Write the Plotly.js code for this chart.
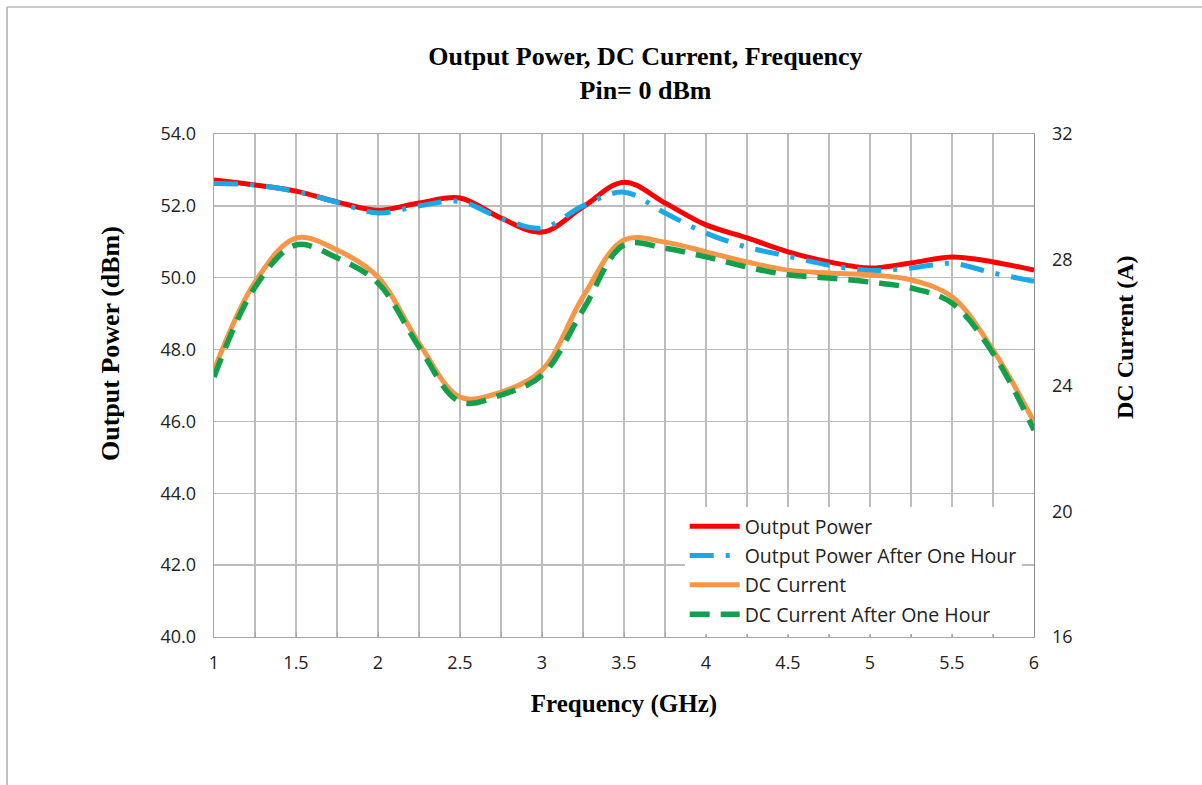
<!DOCTYPE html>
<html>
<head>
<meta charset="utf-8">
<script src="https://cdn.plot.ly/plotly-3.0.1.min.js"></script>
<style>html,body{margin:0;padding:0;background:#fff;}#chart{width:1202px;height:785px;}</style>
</head>
<body>
<div id="chart"></div>
<script>
// Frequency (GHz)
const freq = [1, 1.25, 1.5, 1.75, 2, 2.25, 2.5, 2.75, 3, 3.25, 3.5, 3.75, 4, 4.25, 4.5, 4.75, 5, 5.25, 5.5, 5.75, 6];
// Output power (dBm)
const outputPower = [52.72, 52.58, 52.41, 52.11, 51.88, 52.08, 52.22, 51.66, 51.27, 51.97, 52.66, 52.08, 51.47, 51.11, 50.72, 50.44, 50.27, 50.41, 50.58, 50.44, 50.21];
const outputPowerHour = [52.62, 52.58, 52.40, 52.10, 51.80, 52.00, 52.12, 51.66, 51.38, 52.00, 52.38, 51.80, 51.24, 50.85, 50.60, 50.35, 50.20, 50.27, 50.40, 50.13, 49.90];
// DC current (A)
const dcCurrent = [24.49, 27.29, 28.69, 28.31, 27.45, 25.35, 23.63, 23.79, 24.49, 26.82, 28.63, 28.56, 28.25, 27.93, 27.67, 27.58, 27.52, 27.36, 26.82, 25.13, 22.84];
const dcCurrentHour = [24.27, 27.13, 28.47, 28.06, 27.26, 25.23, 23.48, 23.70, 24.33, 26.40, 28.47, 28.37, 28.09, 27.77, 27.52, 27.42, 27.29, 27.10, 26.62, 25.03, 22.58];
const seriesNames = ["Output Power", "Output Power After One Hour", "DC Current", "DC Current After One Hour"];
const leftTicks = [40, 42, 44, 46, 48, 50, 52, 54];
const rightTicks = [16, 20, 24, 28, 32];

const serif = "Liberation Serif, Times New Roman, serif";
const sans = "Open Sans, Liberation Sans, sans-serif";

const traces = [
  {x: freq, y: outputPower, name: seriesNames[0], mode: "lines", yaxis: "y",
   line: {color: "#ff0000", width: 5, shape: "spline", smoothing: 1}, legendgroup: "a"},
  {x: freq, y: outputPowerHour, name: seriesNames[1], mode: "lines", yaxis: "y",
   line: {color: "#1aa9e6", width: 5, shape: "spline", smoothing: 1, dash: "24px,12px,4px,12px"}, legendgroup: "b"},
  {x: freq, y: dcCurrent, name: seriesNames[2], mode: "lines", yaxis: "y2",
   line: {color: "#f79646", width: 5, shape: "spline", smoothing: 1}, legendgroup: "c"},
  {x: freq, y: dcCurrentHour, name: seriesNames[3], mode: "lines", yaxis: "y2",
   line: {color: "#13a04c", width: 5.5, shape: "spline", smoothing: 1, dash: "20px,11px"}, legendgroup: "d"}
];

const layout = {
  width: 1202, height: 785,
  margin: {l: 214, r: 168, t: 134, b: 148},
  paper_bgcolor: "#ffffff", plot_bgcolor: "#ffffff",
  showlegend: true,
  title: {
    text: "<b>Output Power, DC Current, Frequency</b><br><b>Pin= 0 dBm</b>",
    font: {family: serif, size: 26, color: "#000"},
    x: 0.537, xref: "container", xanchor: "center",
    y: 0.917, yref: "container", yanchor: "middle"
  },
  xaxis: {
    range: [1, 6], dtick: 0.5, tick0: 1,
    showgrid: true, gridcolor: "#bcbcbc", gridwidth: 1.4,
    minor: {dtick: 0.25, showgrid: true, gridcolor: "#bcbcbc", gridwidth: 1.4, ticks: "inside", ticklen: 5, tickcolor: "#a6a6a6"},
    ticks: "inside", ticklen: 5, tickcolor: "#a6a6a6",
    showline: true, linecolor: "#a6a6a6", linewidth: 1.4, mirror: true,
    zeroline: false, ticklabelstandoff: 9,
    tickfont: {family: sans, size: 18, color: "#222"},
    title: {text: "<b>Frequency (GHz)</b>", font: {family: serif, size: 25, color: "#000"}, standoff: 21}
  },
  yaxis: {
    range: [40, 54], tickvals: leftTicks, tickformat: ".1f",
    showgrid: true, gridcolor: "#bcbcbc", gridwidth: 1.4,
    showline: true, linecolor: "#a6a6a6", linewidth: 1.4,
    zeroline: false, ticks: "", ticklabelstandoff: 13,
    tickfont: {family: sans, size: 18, color: "#222"}
  },
  yaxis2: {
    range: [16, 32], tickvals: rightTicks,
    overlaying: "y", side: "right",
    showgrid: false, zeroline: false, ticks: "", ticklabelstandoff: 13,
    showline: true, linecolor: "#8c8c8c", linewidth: 1.4,
    tickfont: {family: sans, size: 18, color: "#222"}
  },
  annotations: [
    {text: "<b>Output Power (dBm)</b>", textangle: -90, xref: "paper", yref: "paper",
     x: -0.1268, y: 0.5825, xanchor: "center", yanchor: "middle", showarrow: false,
     font: {family: serif, size: 26, color: "#000"}},
    {text: "<b>DC Current (A)</b>", textangle: -90, xref: "paper", yref: "paper",
     x: 1.111, y: 0.5964, xanchor: "center", yanchor: "middle", showarrow: false,
     font: {family: serif, size: 24, color: "#000"}}
  ],
  legend: {
    x: 0.985, xanchor: "right", y: 0.006, yanchor: "bottom",
    bgcolor: "#ffffff", borderwidth: 0,
    traceorder: "grouped", tracegroupgap: 1,
    font: {family: sans, size: 19.5, color: "#222"},
    itemwidth: 50
  },
  shapes: [
    {type: "line", xref: "paper", yref: "paper", x0: -0.2524, x1: 1.22, y0: 1.2525, y1: 1.2525, line: {color: "#9a9a9a", width: 1.2}},
    {type: "line", xref: "paper", yref: "paper", x0: -0.2524, x1: -0.2524, y0: 1.2525, y1: -0.31, line: {color: "#9a9a9a", width: 1.2}}
  ]
};

Plotly.newPlot("chart", traces, layout, {displayModeBar: false, staticPlot: true});
</script>
</body>
</html>
